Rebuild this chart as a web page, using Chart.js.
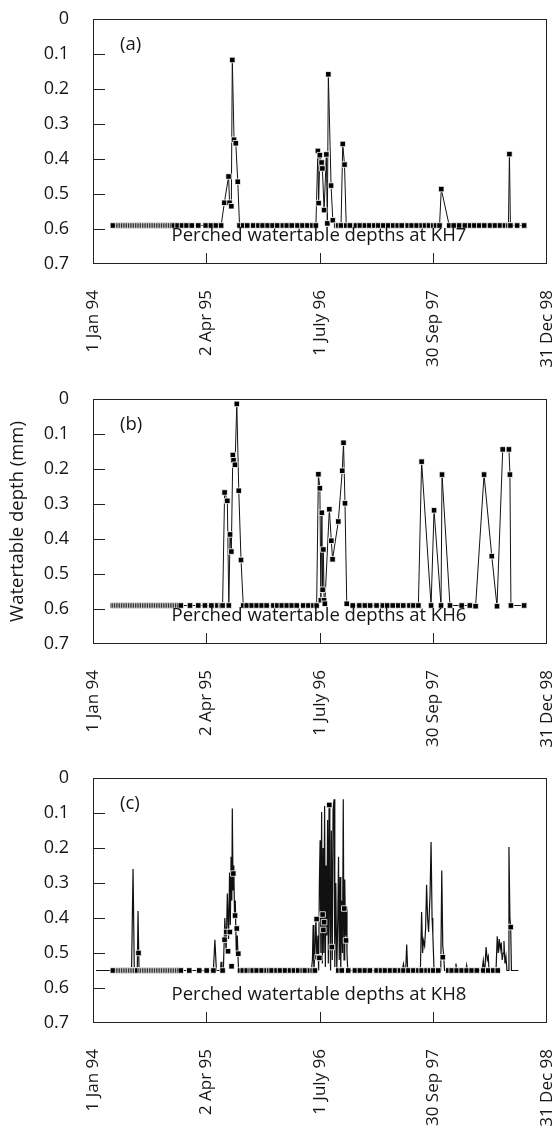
<!DOCTYPE html>
<html>
<head>
<meta charset="utf-8">
<script src="https://cdn.jsdelivr.net/npm/chart.js@4.4.1/dist/chart.umd.min.js"></script>
<style>
  html, body { margin: 0; padding: 0; background: #fff; overflow: hidden; }
  .panel { position: absolute; left: 0; width: 554px; height: 379px; }
</style>
</head>
<body>
<div class="panel" style="top:-1px"><canvas id="kh7Chart" width="554" height="379"></canvas></div>
<div class="panel" style="top:379px"><canvas id="kh6Chart" width="554" height="379"></canvas></div>
<div class="panel" style="top:758px"><canvas id="kh8Chart" width="554" height="379"></canvas></div>
<script>
// ---- axis ticks (x in days since 1 Jan 94) ----
const xTickDays = [0, 456, 912, 1368, 1825];
const xTickLabels = ['1 Jan 94', '2 Apr 95', '1 July 96', '30 Sep 97', '31 Dec 98'];
const yTicks = [0, 0.1, 0.2, 0.3, 0.4, 0.5, 0.6, 0.7];
const yTickLabels = ['0', '0.1', '0.2', '0.3', '0.4', '0.5', '0.6', '0.7'];

// ---- (a) KH7 readings [day, depth m] ----
const kh7Obs = [
  [80, .59], [101, .59], [108, .59], [115, .59], [122, .59], [129, .59], [136, .59], [143, .59],
  [150, .59], [157, .59], [164, .59], [171, .59], [178, .59], [185, .59], [192, .59], [199, .59],
  [206, .59], [213, .59], [220, .59], [227, .59], [234, .59], [241, .59], [248, .59], [255, .59],
  [262, .59], [269, .59], [276, .59], [283, .59], [290, .59], [297, .59], [304, .59], [311, .59],
  [318, .59], [325, .59], [340, .59], [358, .59], [376, .59], [397, .59], [423, .59], [453, .59],
  [474, .59], [494, .59], [515, .59],
  [528, .525], [545, .45], [549, .525], [556, .535], [560, .117], [567, .345], [574, .355], [582, .465], [589, .59],
  [604, .59], [620, .59], [644, .59], [665, .59], [682, .59], [702, .59], [722, .59], [741, .59],
  [763, .59], [779, .59], [799, .59], [822, .59], [842, .59], [862, .59], [882, .59], [896, .59],
  [904, .377], [907, .526], [912, .389], [919, .41], [922, .427], [929, .546], [938, .387], [942, .584],
  [946, .158], [957, .476], [964, .575], [979, .59],
  [986, .59], [997, .59], [1004, .357], [1011, .416], [1018, .59],
  [1033, .59], [1057, .59], [1073, .59], [1093, .59], [1111, .59], [1131, .59], [1147, .59], [1167, .59],
  [1187, .59], [1207, .59], [1225, .59], [1241, .59], [1265, .59], [1281, .59], [1301, .59], [1321, .59],
  [1335, .59], [1351, .59], [1368, .59], [1379, .59], [1393, .59],
  [1400, .486], [1432, .59],
  [1450, .59], [1472, .59], [1495, .59], [1516, .59], [1533, .59], [1553, .59], [1573, .59], [1596, .59],
  [1616, .59], [1636, .59], [1656, .59], [1670, .59],
  [1674, .386], [1678, .59], [1705, .59], [1733, .59]
];

// ---- (b) KH6 readings ----
const kh6Obs = [
  [80, .59], [87, .59], [94, .59], [101, .59], [108, .59], [115, .59], [122, .59], [129, .59],
  [136, .59], [143, .59], [150, .59], [157, .59], [164, .59], [171, .59], [178, .59], [185, .59],
  [192, .59], [199, .59], [206, .59], [213, .59], [220, .59], [227, .59], [234, .59], [241, .59],
  [248, .59], [255, .59], [262, .59], [269, .59], [276, .59], [283, .59], [290, .59], [297, .59],
  [304, .59], [311, .59], [318, .59], [325, .59], [332, .59], [339, .59], [346, .59], [353, .59],
  [390, .59], [423, .59], [450, .59], [476, .59], [500, .59], [515, .59], [521, .59],
  [529, .267], [540, .291], [546, .59], [551, .387], [556, .436], [562, .16], [565, .175], [571, .188],
  [578, .014], [586, .262], [595, .46], [604, .59],
  [618, .59], [638, .59], [658, .59], [678, .59], [698, .59], [725, .59], [741, .59], [759, .59],
  [779, .59], [799, .59], [819, .59], [845, .59], [866, .59], [886, .59], [899, .59],
  [906, .215], [912, .255], [916, .575], [920, .325], [923, .545], [926, .43], [929, .575], [932, .585],
  [950, .315], [958, .405], [963, .458], [986, .35], [1002, .205], [1007, .125], [1013, .298], [1020, .585],
  [1044, .59], [1071, .59], [1093, .59], [1114, .59], [1140, .59], [1165, .59], [1183, .59], [1205, .59],
  [1227, .59], [1247, .59], [1272, .59], [1288, .59], [1308, .59],
  [1321, .179], [1359, .59], [1371, .318], [1399, .59], [1403, .216], [1435, .59], [1482, .59], [1515, .59],
  [1538, .592], [1572, .216], [1603, .449], [1624, .592], [1647, .144], [1672, .144], [1676, .216], [1680, .59],
  [1733, .59]
];

// ---- (c) KH8 manual readings ----
const kh8Obs = [
  [80, .55], [101, .55], [108, .55], [115, .55], [122, .55], [129, .55], [136, .55], [143, .55],
  [150, .55], [157, .55], [164, .55], [171, .55], [178, .55], [183, .50], [192, .55], [199, .55],
  [206, .55], [213, .55], [220, .55], [227, .55], [234, .55], [241, .55], [248, .55], [255, .55],
  [262, .55], [269, .55], [276, .55], [283, .55], [290, .55], [297, .55], [304, .55], [311, .55],
  [318, .55], [325, .55], [332, .55], [339, .55], [346, .55], [353, .55],
  [387, .55], [427, .55], [457, .55], [484, .55], [521, .55],
  [529, .462], [536, .44], [543, .495], [550, .44], [557, .538], [564, .273], [571, .393], [578, .43],
  [584, .502], [591, .55],
  [602, .55], [618, .55], [634, .55], [642, .55], [658, .55], [678, .55], [698, .55], [709, .55],
  [718, .55], [738, .55], [752, .55], [772, .55], [792, .55], [808, .55], [825, .55], [843, .55],
  [852, .55], [872, .55], [883, .55], [892, .55],
  [899, .403], [903, .512], [910, .514], [923, .39], [926, .434], [929, .412], [950, .077], [960, .483],
  [986, .55], [1000, .55], [1010, .373], [1017, .464], [1026, .55],
  [1053, .55], [1073, .55], [1093, .55], [1113, .55], [1140, .55], [1158, .55], [1174, .55], [1194, .55],
  [1214, .55], [1234, .55], [1248, .55], [1268, .55], [1288, .55], [1308, .55], [1321, .55], [1341, .55],
  [1355, .55], [1368, .55], [1388, .55], [1406, .512], [1428, .55], [1442, .55], [1462, .55], [1482, .55],
  [1502, .55], [1522, .55], [1543, .55], [1569, .55], [1589, .55], [1609, .55], [1627, .55],
  [1679, .426]
];

// ---- (c) KH8 logger trace ----
const kh8Logger = [
  [12, .55], [155, .55], [161, .26], [166, .55], [178, .55], [181, .38], [185, .55],
  [484, .55], [490, .462], [496, .55], [512, .55], [515, .525], [518, .55], [524, .55], [530, .40],
  [535, .50], [540, .33], [545, .46], [549, .27], [552, .42], [555, .225], [558, .35], [560, .087],
  [563, .32], [566, .25], [569, .40], [572, .35], [576, .50], [580, .45], [585, .55], [595, .55],
  [878, .55], [882, .52], [885, .42], [888, .55], [892, .50], [896, .40], [900, .52], [904, .45],
  [907, .55], [910, .30], [913, .178], [916, .50], [919, .097], [922, .53], [925, .20], [928, .50],
  [931, .08], [934, .54], [937, .25], [940, .45], [943, .12], [946, .53], [949, .077], [952, .40],
  [955, .55], [958, .15], [962, .52], [965, .09], [969, .061], [972, .54], [976, .30], [980, .55],
  [984, .40], [987, .225], [990, .52], [993, .283], [996, .55], [999, .35], [1003, .50], [1006, .061],
  [1009, .52], [1012, .29], [1015, .45], [1018, .37], [1021, .50], [1024, .55],
  [1243, .55], [1248, .531], [1252, .55], [1257, .55], [1261, .476], [1265, .55],
  [1316, .55], [1321, .383], [1325, .50], [1328, .464], [1333, .48], [1337, .43], [1341, .305], [1345, .40],
  [1349, .44], [1355, .33], [1359, .183], [1363, .40], [1366, .445], [1371, .55],
  [1398, .55], [1402, .264], [1406, .48], [1410, .51], [1413, .55],
  [1456, .55], [1459, .53], [1462, .55], [1499, .55], [1502, .535], [1505, .55],
  [1564, .55], [1569, .521], [1573, .55], [1576, .54], [1580, .483], [1585, .52], [1589, .51], [1592, .55],
  [1620, .55], [1625, .452], [1629, .50], [1633, .46], [1637, .49], [1641, .47], [1645, .52], [1649, .50],
  [1652, .466], [1656, .53], [1660, .51], [1664, .55], [1669, .55], [1672, .197], [1676, .40], [1679, .426],
  [1682, .55], [1710, .55]
];

const FONT = '"Open Sans", "Noto Sans", sans-serif';
const INK = '#161616';
Chart.defaults.font.family = FONT;
Chart.defaults.font.size = 18;
Chart.defaults.color = INK;

const toXY = (rows) => rows.map(([d, v]) => ({ x: d, y: v }));

// box, inward tick marks, panel tag and caption
const framePlugin = {
  id: 'frame',
  afterDraw(chart, args, opts) {
    const { ctx, chartArea: a, scales: { x, y } } = chart;
    ctx.save();
    ctx.strokeStyle = '#222';
    ctx.lineWidth = 1;
    ctx.strokeRect(a.left + 0.5, a.top + 0.5, a.right - a.left - 1, a.bottom - a.top - 1);
    ctx.beginPath();
    yTicks.slice(1, -1).forEach(v => {
      const py = Math.round(y.getPixelForValue(v)) + 0.5;
      ctx.moveTo(a.left, py);
      ctx.lineTo(a.left + 12, py);
    });
    xTickDays.slice(1, -1).forEach(d => {
      const px = Math.round(x.getPixelForValue(d)) + 0.5;
      ctx.moveTo(px, a.bottom);
      ctx.lineTo(px, a.bottom - 11);
    });
    ctx.stroke();
    ctx.fillStyle = INK;
    ctx.font = '18.5px ' + FONT;
    ctx.textAlign = 'left';
    ctx.fillText(opts.tag, a.left + 27, a.top + 31);
    ctx.textAlign = 'center';
    ctx.fillText(opts.caption, (a.left + a.right) / 2 - 1, a.top + 222);
    ctx.restore();
  }
};

const obsStyle = {
  showLine: true,
  borderColor: '#111',
  borderWidth: 1,
  tension: 0,
  pointStyle: 'rect',
  pointRadius: 3.9,
  pointBackgroundColor: '#000',
  pointBorderColor: '#fff',
  pointBorderWidth: 0.8
};

function makeChart(id, datasets, tag, caption, yTitle) {
  return new Chart(document.getElementById(id), {
    type: 'scatter',
    data: { datasets },
    options: {
      responsive: false,
      animation: false,
      events: [],
      layout: { padding: { top: 20, right: 7, left: 0, bottom: 0 } },
      plugins: {
        legend: { display: false },
        tooltip: { enabled: false },
        frame: { tag, caption }
      },
      scales: {
        x: {
          type: 'linear',
          min: 0,
          max: 1825,
          grid: { display: false },
          border: { display: false },
          afterBuildTicks: s => { s.ticks = xTickDays.map(v => ({ value: v })); },
          afterFit: s => { s.height = 114; s.paddingLeft = 0; s.paddingRight = 0; },
          ticks: {
            autoSkip: false,
            minRotation: 90,
            maxRotation: 90,
            padding: 18,
            font: { size: 17 },
            callback: (v, i) => xTickLabels[i]
          }
        },
        y: {
          type: 'linear',
          min: 0,
          max: 0.7,
          reverse: true,
          grid: { display: false },
          border: { display: false },
          afterBuildTicks: s => { s.ticks = yTicks.map(v => ({ value: v })); },
          afterFit: s => { s.width = 93; s.paddingTop = 0; s.paddingBottom = 0; },
          ticks: { padding: 16, callback: (v, i) => yTickLabels[i] },
          title: {
            display: !!yTitle,
            text: yTitle || '',
            font: { size: 18.5 },
            padding: { top: 7, bottom: 0 }
          }
        }
      }
    },
    plugins: [framePlugin]
  });
}

makeChart('kh7Chart', [
  { label: 'KH7', data: toXY(kh7Obs), ...obsStyle }
], '(a)', 'Perched watertable depths at KH7');

makeChart('kh6Chart', [
  { label: 'KH6', data: toXY(kh6Obs), ...obsStyle }
], '(b)', 'Perched watertable depths at KH6', 'Watertable depth (mm)');

makeChart('kh8Chart', [
  { label: 'KH8 readings', data: toXY(kh8Obs), ...obsStyle, showLine: false },
  { label: 'KH8 logger', data: toXY(kh8Logger), showLine: true, borderColor: '#111', borderWidth: 1.2, tension: 0, pointRadius: 0 }
], '(c)', 'Perched watertable depths at KH8');
</script>
</body>
</html>
